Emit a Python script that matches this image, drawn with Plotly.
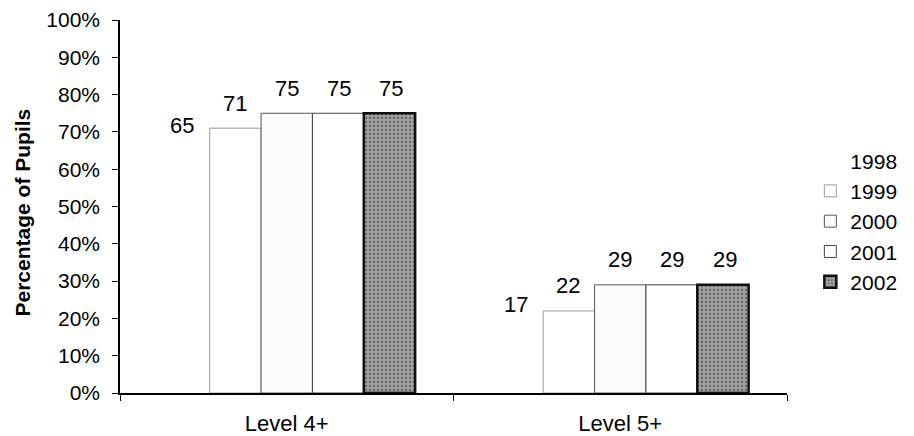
import plotly.graph_objects as go

categories = ["Level 4+", "Level 5+"]
years = ["1998", "1999", "2000", "2001", "2002"]
values = {
    "1998": [65, 17],
    "1999": [71, 22],
    "2000": [75, 29],
    "2001": [75, 29],
    "2002": [75, 29],
}

styles = {
    "1998": dict(color="white", line=dict(color="white", width=0)),
    "1999": dict(color="white", line=dict(color="#9a9a9a", width=1)),
    "2000": dict(color="#fbfbfb", line=dict(color="#555555", width=1)),
    "2001": dict(color="white", line=dict(color="#444444", width=1)),
    "2002": dict(color="#9c9c9c", line=dict(color="#111111", width=2.5),
                 pattern=dict(shape=".", bgcolor="#a8a8a8", fgcolor="#333333",
                              size=4, solidity=0.4)),
}

W, H = 906, 428
ML, MR, MT, MB = 112, 117, 12, 43
BARGAP = 0.23
plot_w = W - ML - MR
bar_px = plot_w / len(categories) * (1 - BARGAP) / len(years)

fig = go.Figure()
annotations = []
for i, y in enumerate(years):
    fig.add_trace(go.Bar(
        name=y, x=categories, y=values[y],
        marker=styles[y],
        cliponaxis=False,
    ))
    for c, v in zip(categories, values[y]):
        annotations.append(dict(
            x=c, y=v, xref="x", yref="y", text=str(v), showarrow=False,
            xshift=(i - (len(years) - 1) / 2) * bar_px, yshift=25,
            xanchor="center", yanchor="middle",
            font=dict(size=22, color="black"),
        ))

annotations.append(dict(
    text="<b>Percentage of Pupils</b>", textangle=-90,
    xref="paper", yref="paper", x=0, y=0.5, xshift=-98, yshift=-6,
    xanchor="center", yanchor="middle", showarrow=False,
    font=dict(size=21, color="black"),
))

fig.update_layout(
    width=W, height=H,
    margin=dict(l=ML, r=MR, t=MT, b=MB),
    paper_bgcolor="white", plot_bgcolor="white",
    font=dict(family="Liberation Sans, Arial, sans-serif", size=20, color="black"),
    barmode="group", bargap=BARGAP, bargroupgap=0,
    showlegend=True,
    legend=dict(x=1.035, y=0.46, xanchor="left", yanchor="middle",
                font=dict(size=21), tracegroupgap=0, itemwidth=30,
                bgcolor="rgba(0,0,0,0)"),
    annotations=annotations,
)
fig.update_xaxes(
    showline=True, linecolor="black", linewidth=1.5,
    ticks="outside", tickson="boundaries", ticklen=6, tickcolor="black",
    tickfont=dict(size=22), showgrid=False, automargin=False,
    ticklabelstandoff=10,
)
fig.update_yaxes(
    range=[0, 100], dtick=10, ticksuffix="%",
    showline=True, linecolor="black", linewidth=1.5,
    ticks="outside", ticklen=6, tickcolor="black",
    tickfont=dict(size=21), showgrid=False, zeroline=False,
    ticklabelstandoff=8, automargin=False,
)

fig.write_html("out.html")
